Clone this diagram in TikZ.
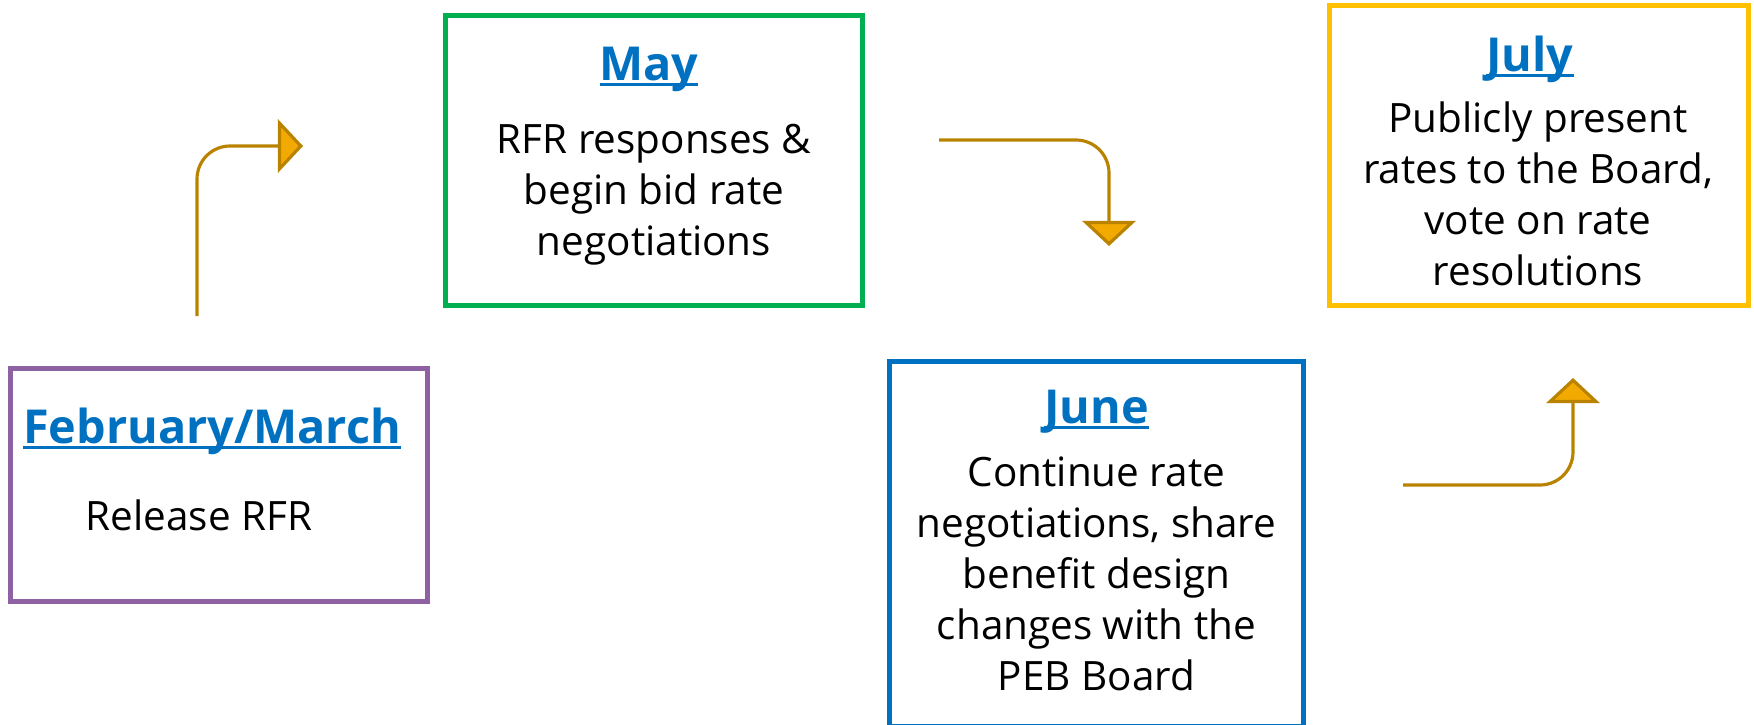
\documentclass[tikz,border=0pt]{standalone}
\usepackage{fontspec}
\setmainfont{Open Sans}
\usepackage{xcolor}
\usetikzlibrary{positioning, arrows.meta, calc}

\definecolor{febpurple}{HTML}{8E62A2}
\definecolor{maygreen}{HTML}{00B050}
\definecolor{juneblue}{HTML}{0070C0}
\definecolor{julyyellow}{HTML}{FFC000}
\definecolor{titleblue}{HTML}{0070C0}
\definecolor{arrowline}{HTML}{B98300}
\definecolor{arrowfill}{HTML}{F2A900}

% underlined month heading
\newcommand{\monthtitle}[1]{\setbox0\hbox{#1}\rlap{\rule[-1.7pt]{\wd0}{0.85pt}}\box0}

\begin{document}
\begin{tikzpicture}[x=0.01cm, y=-0.01cm,
    monthbox/.style={draw, line width=1.45pt, inner sep=0pt},
    title/.style={anchor=base, font=\fontsize{13.3}{16}\selectfont\bfseries, text=titleblue},
    body/.style={anchor=base, align=center, font=\fontsize{11.5}{14.5}\selectfont},
    bendarrow/.style={arrowline, line width=0.9pt, rounded corners=0.33cm,
        -{Triangle[length=0.25cm, width=0.53cm, fill=arrowfill]}}]
    \useasboundingbox (0,0) rectangle (1754,724);

    % Month boxes
    \node[monthbox, febpurple, minimum width=4.16cm, minimum height=2.32cm] (feb) at (219,485) {};
    \node[monthbox, maygreen, minimum width=4.17cm, minimum height=2.90cm] (may) at (654,160.5) {};
    \node[monthbox, juneblue, minimum width=4.13cm, minimum height=3.64cm] (june) at (1096.5,544) {};
    \node[monthbox, julyyellow, minimum width=4.18cm, minimum height=2.99cm] (july) at (1539,155.5) {};

    % Headings and descriptions (base = last line)
    \node[title] (febtitle) at (212,443) {\monthtitle{February/March}};
    \node[body] (febtext) at (199,530) {Release RFR};

    \node[title] (maytitle) at (649,80) {\monthtitle{May}};
    \node[body] (maytext) at (654,255) {RFR responses \&\\ begin bid rate\\ negotiations};

    \node[title] (junetitle) at (1096.5,423) {\monthtitle{June}};
    \node[body] (junetext) at (1096.5,690) {Continue rate\\ negotiations, share\\ benefit design\\ changes with the\\ PEB Board};

    \node[title] (julytitle) at (1530,71) {\monthtitle{July}};
    \node[body] (julytext) at (1538,285) {Publicly present\\ rates to the Board,\\ vote on rate\\ resolutions};

    % Bent arrows between the steps
    \coordinate (febout) at (197,316);
    \coordinate (mayin) at (303,146);
    \coordinate (mayout) at (939,140);
    \coordinate (junein) at (1109,246);
    \coordinate (juneout) at (1403,485);
    \coordinate (julyin) at (1573,378);

    \draw[bendarrow] (febout) |- (mayin);
    \draw[bendarrow] (mayout) -| (junein);
    \draw[bendarrow] (juneout) -| (julyin);
\end{tikzpicture}
\end{document}
